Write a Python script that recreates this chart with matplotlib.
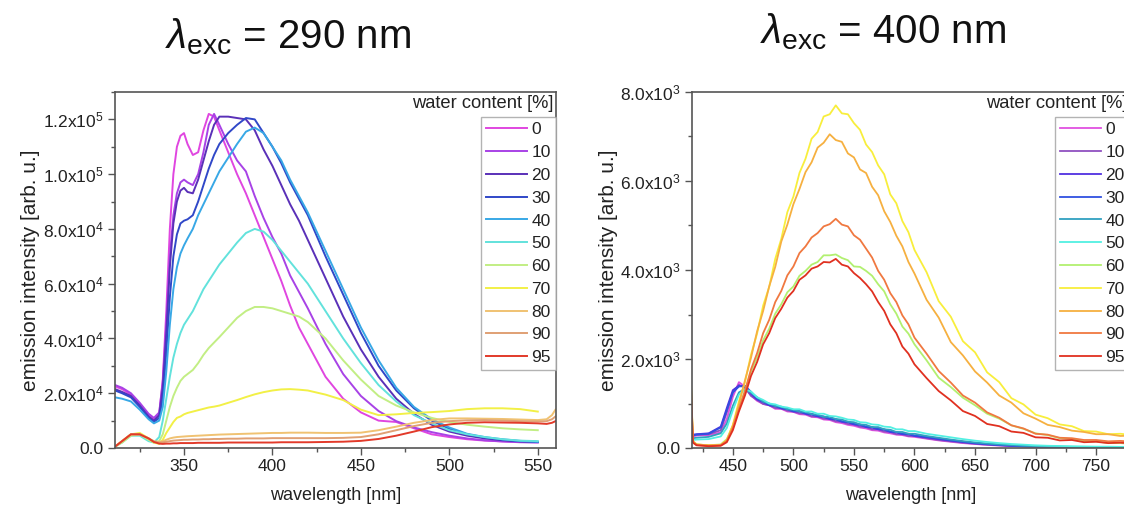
import numpy as np
import matplotlib
matplotlib.use('Agg')
import matplotlib.pyplot as plt
from matplotlib.ticker import MultipleLocator, FuncFormatter

plt.rcParams['font.family'] = ['Liberation Sans', 'DejaVu Sans']
plt.rcParams['mathtext.fontset'] = 'custom'
plt.rcParams['mathtext.rm'] = 'Liberation Sans'
plt.rcParams['mathtext.it'] = 'Liberation Sans:italic'
plt.rcParams['mathtext.bf'] = 'Liberation Sans:bold'

water_content = ['0', '10', '20', '30', '40', '50', '60', '70', '80', '90', '95']

colors_290 = ['#e046e0', '#a842e6', '#5a30b8', '#3048c8', '#38a8e6', '#62e2dc',
              '#c2ee84', '#f2f046', '#f0c272', '#e0a074', '#e23a2a']
colors_400 = ['#e050e0', '#9050c0', '#5030e0', '#3050e0', '#30a0c0', '#52f0e2',
              '#b2f070', '#f8ee3c', '#f6b040', '#f07840', '#e03020']

# ---------------- lambda_exc = 290 nm (intensity in units of 1e3) ----------
wl_290 = [311, 315, 320, 325, 330, 333, 336, 338, 340, 342,
          344, 346, 348, 350, 352, 355, 358, 361, 364, 367,
          370, 375, 380, 385, 390, 395, 400, 405, 410, 415,
          420, 430, 440, 450, 460, 470, 480, 490, 500, 510,
          520, 530, 540, 550, 555, 558, 560]

I290_w0 = [22.5, 21.5, 19.5, 16, 12, 10.5, 12.5, 25, 50, 80,
           100, 110, 114, 115, 111, 107, 108, 116, 122, 121,
           116, 108, 100, 93, 85, 77, 69, 61, 52, 44,
           38, 26, 18, 13, 10, 9.5, 7.2, 5, 4, 3.2,
           2.7, 2.4, 2.2, 2.1, None, None, None]
I290_w10 = [23, 22, 20, 16.5, 12.5, 11, 13, 24, 45, 70,
            85, 93, 97, 98, 97, 96, 100, 108, 118, 122,
            118, 111, 105, 101, 92, 84, 77, 71, 63, 57,
            51, 38, 27, 19, 13.5, 9.8, 7.5, 5.8, 4.5, 3.5,
            2.8, 2.4, 2.1, 2.0, None, None, None]
I290_w20 = [21.5, 20.5, 19, 15.5, 11.5, 10, 12, 22, 42, 66,
            82, 90, 94, 95, 93.5, 93, 98, 105, 112, 118,
            121, 121, 120.5, 120, 116, 109, 103, 96, 89, 83,
            76, 62, 48, 36, 26, 18, 12.5, 8.5, 6, 4.5,
            3.5, 2.8, 2.4, 2.2, None, None, None]
I290_w30 = [21, 20, 18.5, 15, 11, 9.5, 11, 18, 35, 55,
            70, 78, 82, 83, 83.5, 85, 90, 96, 102, 107,
            111, 115, 118, 120.5, 120, 115, 110, 104, 97, 91,
            85, 70, 56, 42, 30, 21, 14.5, 10, 7, 5,
            3.8, 3, 2.5, 2.2, None, None, None]
I290_w40 = [18.5, 18, 17, 14, 10.5, 9, 10, 15, 28, 45,
            58, 66, 71, 74, 76.5, 80, 85, 89, 93, 97,
            101, 106, 111, 115.5, 117, 115, 110, 105, 98, 92,
            86, 72, 58, 44, 32, 22, 15, 10.5, 7.5, 5.2,
            4, 3.2, 2.6, 2.3, None, None, None]
I290_w50 = [0.5, 2, 4.5, 4.5, 2.5, 2, 4, 10, 18, 26,
            33, 38, 42, 45, 47, 50, 54, 58, 61, 64,
            67, 71, 75, 78.5, 80, 79, 76, 72, 68, 64,
            60, 50, 40, 31, 23, 17, 12, 9, 6.5, 5,
            4, 3.2, 2.7, 2.5, None, None, None]
I290_w60 = [0.5, 2, 4.5, 5, 3, 2, 2.5, 5, 10, 15,
            19, 22, 24.5, 26, 27, 28.5, 31, 34, 36.5, 38.5,
            40.5, 44, 47.5, 50, 51.5, 51.5, 51, 50, 49, 48,
            46, 40, 32, 25, 19, 15.5, 13, 11, 9.5, 8.5,
            7.8, 7.2, 6.8, 6.5, None, None, None]
I290_w70 = [0.5, 2.5, 5, 5.5, 3.5, 2, 1.5, 3, 5.5, 7.5,
            9.5, 11, 11.5, 12.3, 12.8, 13.3, 13.8, 14.3, 14.8, 15.1,
            15.5, 16.5, 17.5, 18.6, 19.6, 20.4, 21, 21.4, 21.5, 21.3,
            21, 19.5, 17.5, 14, 12, 12.3, 12.8, 13.1, 13.5, 14.2,
            14.5, 14.5, 14.2, 13.3, None, None, None]
I290_w80 = [0.5, 2.5, 5, 5, 3.5, 2.5, 2.2, 2.5, 3, 3.5,
            3.8, 4, 4.1, 4.2, 4.3, 4.4, 4.5, 4.6, 4.7, 4.8,
            4.9, 5, 5.1, 5.2, 5.3, 5.4, 5.5, 5.5, 5.6, 5.6,
            5.6, 5.5, 5.5, 5.6, 6.5, 7.8, 9.2, 10.2, 10.8, 10.8,
            10.7, 10.6, 10.4, 10.2, 10.5, 12, 14]
I290_w90 = [0.5, 2.5, 5, 5, 3.5, 2.3, 2, 2.1, 2.3, 2.5,
            2.7, 2.8, 2.9, 3, 3, 3.1, 3.1, 3.2, 3.2, 3.3,
            3.3, 3.4, 3.4, 3.5, 3.5, 3.5, 3.6, 3.6, 3.6, 3.6,
            3.6, 3.6, 3.7, 4, 5, 6.5, 8, 9.2, 9.8, 10.1,
            10.2, 10, 9.8, 9.7, 9.8, 10.5, 11.5]
I290_w95 = [0.5, 2.5, 5, 5, 3.5, 2.2, 1.6, 1.5, 1.6, 1.6,
            1.7, 1.7, 1.8, 1.8, 1.8, 1.8, 1.9, 1.9, 1.9, 1.9,
            1.9, 2, 2, 2, 2, 2, 2, 2.1, 2.1, 2.1,
            2.1, 2.2, 2.3, 2.6, 3.3, 4.5, 6, 7.6, 8.6, 9.2,
            9.4, 9.3, 9.2, 9.0, 8.8, 9.2, 9.8]

series_290 = [I290_w0, I290_w10, I290_w20, I290_w30, I290_w40, I290_w50,
              I290_w60, I290_w70, I290_w80, I290_w90, I290_w95]

# ---------------- lambda_exc = 400 nm (intensity in counts) ----------------
wl_400 = [415, 417, 420, 430, 440,
          445, 450, 455, 460, 465, 470, 475, 480, 485, 490, 495, 500, 505, 510, 515,
          520, 525, 530, 535, 540, 545, 550, 555, 560, 565, 570, 575, 580, 585, 590,
          595, 600,
          610, 620, 630, 640, 650, 660, 670, 680, 690, 700, 710, 720, 730, 740, 750,
          760, 770, 780]

I400_w0 = [520, 260, 280, 290, 350,
           650, 1150, 1480, 1380, 1180, 1060, 990, 960, 880, 880, 820, 810, 760, 750, 700,
           690, 640, 630, 580, 560, 520, 500, 460, 440, 400, 390, 350, 330, 300, 290,
           260, 250,
           210, 170, 140, 110, 90, 70, 55, 45, 35, 30, 25, 20, 15, 15, 10, 10, 10, 10]
I400_w10 = [480, 280, 300, 310, 400,
            800, 1250, 1420, 1350, 1170, 1080, 990, 960, 900, 890, 840, 820, 780, 770, 710,
            710, 660, 650, 600, 590, 540, 530, 480, 470, 420, 420, 370, 360, 310, 310,
            270, 270,
            220, 180, 150, 120, 95, 75, 60, 45, 35, 30, 25, 20, 15, 15, 10, 10, 10, 10]
I400_w20 = [460, 300, 310, 330, 480,
            900, 1300, 1400, 1380, 1220, 1090, 1030, 960, 940, 890, 870, 820, 820, 770, 750,
            710, 700, 650, 640, 590, 580, 530, 520, 470, 460, 420, 410, 360, 350, 310,
            310, 270,
            240, 200, 165, 135, 105, 85, 65, 50, 40, 35, 30, 25, 20, 15, 15, 10, 10, 10]
I400_w30 = [450, 290, 300, 320, 460,
            850, 1250, 1380, 1400, 1260, 1110, 1050, 970, 950, 900, 880, 830, 830, 780, 770,
            720, 710, 660, 650, 600, 590, 540, 530, 480, 470, 430, 420, 370, 360, 320,
            320, 280,
            250, 210, 175, 140, 110, 90, 70, 55, 45, 35, 30, 25, 20, 15, 15, 10, 10, 10]
I400_w40 = [420, 220, 230, 250, 330,
            550, 950, 1250, 1330, 1240, 1140, 1040, 1000, 940, 930, 870, 860, 820, 810, 760,
            750, 700, 700, 650, 640, 590, 580, 530, 520, 470, 470, 420, 410, 360, 360,
            320, 320,
            270, 230, 190, 155, 125, 100, 80, 65, 50, 40, 35, 30, 25, 20, 20, 15, 15, 15]
I400_w50 = [400, 180, 190, 200, 260,
            450, 850, 1200, 1320, 1270, 1140, 1080, 1000, 980, 930, 910, 870, 870, 820, 820,
            770, 770, 720, 710, 680, 640, 630, 580, 570, 530, 520, 480, 470, 420, 420,
            380, 380,
            320, 280, 240, 200, 165, 135, 110, 90, 75, 60, 50, 45, 40, 35, 30, 30, 25, 25]
I400_w60 = [1700, 150, 80, 60, 80,
            200, 500, 920, 1280, 1720, 2030, 2420, 2680, 3020, 3230, 3500, 3630, 3870, 3980, 4120,
            4180, 4330, 4330, 4350, 4270, 4220, 4080, 4070, 3980, 3870, 3680, 3520, 3230, 3020, 2730,
            2570, 2330,
            1970, 1580, 1370, 1130, 960, 770, 660, 510, 430, 330, 290, 220, 200, 150, 150, 110, 110, 90]
I400_w70 = [1850, 160, 80, 60, 70,
            180, 520, 1050, 1480, 2100, 2570, 3200, 3620, 4250, 4700, 5300, 5650, 6180, 6500, 6950,
            7100, 7450, 7500, 7700, 7520, 7500, 7300, 7150, 6820, 6650, 6350, 6150, 5700, 5500, 5100,
            4850, 4450,
            3950, 3300, 2950, 2400, 2150, 1700, 1480, 1120, 980, 750, 670, 530, 490, 380, 370, 310, 320, 290]
I400_w80 = [1800, 150, 80, 60, 70,
            170, 500, 980, 1520, 2030, 2620, 3080, 3630, 4070, 4640, 5020, 5480, 5820, 6200, 6420,
            6750, 6860, 7050, 6920, 6880, 6620, 6530, 6260, 6180, 5870, 5680, 5320, 5080, 4770, 4530,
            4180, 3920,
            3330, 2930, 2380, 2080, 1720, 1470, 1180, 1020, 780, 660, 520, 470, 390, 360, 310, 310, 270, 280]
I400_w90 = [1700, 130, 70, 50, 60,
            160, 450, 870, 1280, 1770, 2130, 2580, 2880, 3280, 3530, 3880, 4080, 4380, 4530, 4730,
            4830, 4980, 5030, 5150, 5020, 4980, 4780, 4680, 4480, 4280, 3980, 3780, 3480, 3280, 2980,
            2780, 2480,
            2120, 1730, 1470, 1180, 1020, 800, 680, 510, 440, 320, 300, 230, 220, 180, 180, 150, 160, 140]
I400_w95 = [1600, 120, 60, 40, 50,
            130, 400, 820, 1180, 1620, 1930, 2330, 2580, 2920, 3130, 3380, 3530, 3780, 3880, 4030,
            4080, 4180, 4170, 4250, 4120, 4080, 3930, 3820, 3680, 3520, 3280, 3080, 2780, 2580, 2280,
            2120, 1880,
            1570, 1280, 1070, 830, 720, 540, 490, 370, 340, 240, 230, 170, 180, 130, 140, 110, 120, 100]

series_400 = [I400_w0, I400_w10, I400_w20, I400_w30, I400_w40, I400_w50,
              I400_w60, I400_w70, I400_w80, I400_w90, I400_w95]

W, H = 1124, 511
fig = plt.figure(figsize=(W / 100, H / 100), dpi=100)

SPINE = '#555555'
TXT = '#222222'


def sci_fmt(v, pos):
    if abs(v) < 1e-9:
        return '0.0'
    e = int(np.floor(np.log10(abs(v)) + 1e-9))
    m = v / 10 ** e
    return '%.1fx10$^{%d}$' % (m, e)


def style(ax):
    for s in ax.spines.values():
        s.set_color(SPINE)
        s.set_linewidth(1.2)
    ax.tick_params(which='both', direction='out', colors=SPINE, labelcolor=TXT,
                   labelsize=12.5, top=False, right=False, width=1.0)
    ax.tick_params(which='major', length=5, pad=3)
    ax.tick_params(which='minor', length=3)
    ax.yaxis.set_major_formatter(FuncFormatter(sci_fmt))


# left panel
ax1 = fig.add_axes([115 / W, (H - 448) / H, 441 / W, 356 / H])
wl = np.array(wl_290, dtype=float)
for lab, col, ys in zip(water_content, colors_290, series_290):
    ax1.plot(wl, np.array(ys, dtype=float) * 1e3, color=col, lw=1.4, label=lab)
ax1.set_xlim(311, 560.3)
ax1.set_ylim(0, 1.3e5)
ax1.xaxis.set_major_locator(MultipleLocator(50))
ax1.xaxis.set_minor_locator(MultipleLocator(25))
ax1.yaxis.set_major_locator(MultipleLocator(2e4))
ax1.yaxis.set_minor_locator(MultipleLocator(1e4))
style(ax1)
ax1.set_xlabel('wavelength [nm]', fontsize=13, color=TXT)
ax1.set_ylabel('emission intensity [arb. u.]', fontsize=15, color=TXT)
ax1.xaxis.set_label_coords(0.5, (448 - 487) / 356)
ax1.yaxis.set_label_coords((40 - 115) / 441, 0.5)

# right panel
ax2 = fig.add_axes([691.7 / W, (H - 448) / H, 438.3 / W, 356 / H])
wl = np.array(wl_400, dtype=float)
for lab, col, ys in zip(water_content, colors_400, series_400):
    ax2.plot(wl, np.array(ys, dtype=float), color=col, lw=1.3, label=lab)
ax2.set_xlim(416, 778)
ax2.set_ylim(0, 8000)
ax2.xaxis.set_major_locator(MultipleLocator(50))
ax2.xaxis.set_minor_locator(MultipleLocator(25))
ax2.yaxis.set_major_locator(MultipleLocator(2000))
ax2.yaxis.set_minor_locator(MultipleLocator(1000))
style(ax2)
ax2.set_xlabel('wavelength [nm]', fontsize=13, color=TXT)
ax2.set_ylabel('emission intensity [arb. u.]', fontsize=15, color=TXT)
ax2.xaxis.set_label_coords(0.5, (448 - 487) / 356)
ax2.yaxis.set_label_coords((618 - 691.7) / 438.3, 0.5)

for ax in (ax1, ax2):
    leg = ax.legend(loc='upper right', bbox_to_anchor=(1.0, (448 - 117) / 356),
                    borderaxespad=0, frameon=True, fancybox=False, fontsize=12.5,
                    handlelength=2.35, handletextpad=0.25, labelspacing=0.44,
                    borderpad=0.3)
    leg.get_frame().set_edgecolor('#a0a0a0')
    leg.get_frame().set_linewidth(1.0)
    for t in leg.get_texts():
        t.set_color(TXT)
    ax.text(0.994, (448 - 103) / 356, 'water content [%]', transform=ax.transAxes,
            ha='right', va='center', fontsize=13.2, color=TXT)

fig.text(288 / W, 1 - 37 / H, r'$\lambda_{\mathrm{exc}}$ = 290 nm', ha='center',
         va='center', fontsize=29, color='#111111')
fig.text(883 / W, 1 - 32 / H, r'$\lambda_{\mathrm{exc}}$ = 400 nm', ha='center',
         va='center', fontsize=29, color='#111111')

fig.savefig('out.png', dpi=100)
